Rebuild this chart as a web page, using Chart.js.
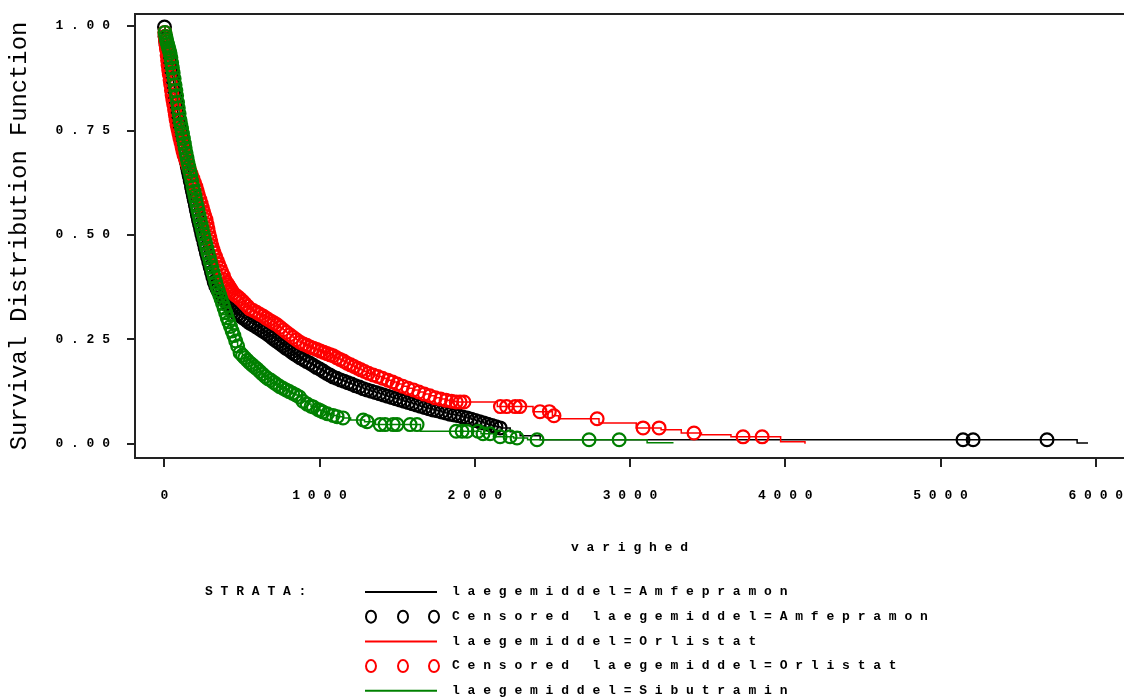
<!DOCTYPE html>
<html>
<head>
<meta charset="utf-8">
<title>Survival Distribution Function</title>
<script src="https://cdn.jsdelivr.net/npm/chart.js@4.4.1/dist/chart.umd.min.js"></script>
<style>
  html, body { margin: 0; padding: 0; background: #fff; overflow: hidden; }
  canvas { display: block; }
</style>
</head>
<body>
<canvas id="km" width="1124" height="700"></canvas>
<script>
// strata and axis ticks
const strataVar = 'laegemiddel';
const strata = ['Amfepramon', 'Orlistat', 'Sibutramin'];
const strataColors = ['#000000', '#ff0000', '#008000'];
const xTicks = [0, 1000, 2000, 3000, 4000, 5000, 6000];
const yTicks = [0, 0.25, 0.5, 0.75, 1];

// step points of each curve [time, survival]
const amfSteps = [[0, 1], [2228, .029], [2292, .019], [2421, .0096], [5880, .002], [5950, .002]];
const orlSteps = [[0, 1], [2145, .089], [2375, .077], [2500, .067], [2540, .06], [2800, .05], [3040, .038],
  [3200, .0335], [3330, .026], [3460, .0215], [3650, .0167], [3970, .005], [4127, 0]];
const sibSteps = [[0, 1], [1200, .057], [1290, .053], [1360, .046], [1650, .03], [2040, .024], [2130, .017],
  [2250, .014], [2340, .0096], [3110, .0024], [3280, .0024]];

// censored observations [time, survival]
const amfCensored = [[1, .998], [5, .975], [8, .965], [12, .955], [17, .948], [22, .942], [27, .935], [32, .924],
  [37, .912], [42, .9], [47, .888], [53, .874], [59, .859], [64, .846], [69, .833], [75, .817], [80, .804],
  [85, .79], [91, .775], [96, .765], [101, .755], [107, .743], [113, .731], [119, .719], [124, .708], [130, .696],
  [136, .685], [142, .674], [148, .663], [154, .652], [160, .642], [167, .629], [175, .615], [181, .604],
  [187, .594], [193, .583], [200, .571], [206, .56], [213, .548], [220, .536], [227, .525], [234, .514],
  [241, .503], [248, .492], [256, .48], [263, .469], [271, .457], [279, .446], [287, .434], [295, .423],
  [304, .411], [312, .4], [321, .388], [331, .378], [341, .37], [351, .363], [361, .357], [372, .352],
  [384, .346], [396, .341], [408, .335], [420, .329], [432, .323],
  [443, .318], [458, .314], [473, .31], [489, .306], [505, .302], [521, .298], [537, .293], [552, .289],
  [570, .285], [588, .281], [606, .277], [625, .272], [643, .268], [662, .263], [680, .258], [697, .253],
  [714, .248], [731, .244], [748, .239], [765, .234], [783, .229], [801, .225], [819, .22], [837, .215],
  [856, .211], [874, .206], [895, .202], [916, .197], [938, .193], [959, .188], [980, .183], [1001, .179],
  [1023, .174], [1044, .169], [1065, .165], [1087, .16], [1110, .157], [1134, .153], [1158, .15], [1182, .146],
  [1206, .143], [1230, .139], [1256, .136], [1281, .132], [1306, .129], [1333, .126], [1360, .123], [1386, .12],
  [1412, .117], [1438, .114], [1465, .111], [1491, .108], [1518, .105], [1544, .102], [1571, .099], [1597, .096],
  [1624, .093], [1650, .09], [1677, .087], [1704, .084], [1731, .081], [1758, .079], [1786, .076], [1813, .074],
  [1840, .071], [1868, .069], [1895, .067], [1922, .064], [1950, .062], [1977, .059], [2003, .056], [2030, .053],
  [2057, .05], [2083, .047], [2110, .044], [2136, .041], [2163, .038],
  [5145, .0096], [5210, .0096], [5686, .0096]];

const orlCensored = [[3, .985], [5, .975], [8, .965], [11, .955], [14, .944], [18, .93], [21, .918], [24, .907],
  [28, .895], [32, .884], [37, .871], [41, .86], [46, .846], [50, .835], [55, .824], [60, .813], [66, .8],
  [71, .788], [76, .776], [82, .763], [88, .753], [94, .743], [100, .733], [107, .722], [114, .711], [120, .701],
  [127, .691], [136, .682], [145, .673], [154, .664], [164, .655], [174, .645], [184, .635], [194, .625],
  [204, .615], [212, .605], [220, .595], [229, .585], [237, .575], [245, .565], [253, .555], [261, .545],
  [269, .536], [275, .525], [281, .515], [287, .504], [293, .494], [299, .484], [306, .474], [313, .465],
  [320, .457], [330, .448], [340, .439], [350, .43], [360, .421], [370, .411], [381, .402], [391, .392],
  [400, .386], [409, .381], [418, .376], [426, .371], [434, .366], [443, .361], [458, .356], [473, .352],
  [488, .347], [505, .341], [520, .335], [536, .329], [552, .323], [573, .319], [594, .315], [615, .31],
  [636, .306], [655, .301], [672, .297], [690, .293], [708, .289], [726, .285], [746, .279], [766, .273],
  [786, .267], [808, .261], [829, .255], [851, .249], [874, .243], [896, .239], [917, .236], [938, .232],
  [960, .229], [982, .226], [1005, .222], [1027, .219], [1048, .216], [1069, .213], [1087, .211], [1110, .206],
  [1132, .202], [1155, .198], [1177, .193], [1200, .189], [1222, .185], [1245, .181], [1267, .177], [1290, .173],
  [1315, .169], [1345, .165], [1375, .161], [1405, .157], [1440, .152], [1470, .148], [1500, .143], [1535, .138],
  [1570, .133], [1605, .129], [1640, .124], [1675, .119], [1710, .115], [1745, .11], [1780, .107], [1815, .104],
  [1850, .102], [1880, .1], [1905, .1], [1930, .1],
  [2165, .089], [2205, .089], [2260, .089], [2290, .089], [2420, .077], [2480, .077], [2510, .067], [2788, .06],
  [3084, .038], [3187, .038], [3412, .026], [3728, .0167], [3851, .0167]];

const sibCensored = [[4, .985], [9, .975], [13, .968], [17, .962], [22, .955], [27, .948], [32, .942], [37, .935],
  [42, .924], [47, .912], [52, .9], [57, .888], [63, .874], [69, .859], [74, .846], [79, .833], [85, .817],
  [90, .804], [95, .79], [101, .775], [106, .765], [111, .755], [117, .743], [123, .731], [129, .719], [134, .708],
  [140, .696], [146, .685], [152, .674], [158, .663], [164, .652], [170, .642], [177, .629], [185, .615],
  [191, .604], [197, .594], [203, .583], [210, .571], [216, .56], [223, .548], [230, .536], [237, .525],
  [244, .514], [251, .503], [258, .492], [266, .48], [273, .469], [281, .457], [289, .446], [297, .434],
  [305, .423], [314, .411], [322, .4], [331, .387], [339, .376], [348, .366], [357, .356], [366, .346],
  [375, .336], [385, .325], [395, .314], [405, .302], [415, .292], [426, .281], [437, .27], [448, .259],
  [460, .246], [472, .234], [488, .218], [503, .212], [518, .206], [534, .2], [550, .194], [566, .189],
  [582, .184], [598, .179], [615, .173], [632, .167], [650, .161], [668, .156], [686, .152], [705, .147],
  [724, .142], [744, .137], [764, .133], [784, .129], [805, .125], [826, .121], [848, .117], [870, .112],
  [893, .102], [920, .095], [945, .09], [960, .088], [989, .082], [1003, .08], [1022, .076], [1050, .072],
  [1087, .068], [1113, .065], [1151, .062],
  [1281, .057], [1306, .053], [1390, .046], [1422, .046], [1474, .046], [1499, .046], [1583, .046], [1628, .046],
  [1880, .03], [1918, .03], [1950, .03], [2021, .03], [2053, .024], [2098, .024], [2163, .017], [2227, .017],
  [2272, .014], [2401, .0096], [2736, .0096], [2930, .0096]];

// ---------------------------------------------------------------
const sp = s => s.split('').join(' ');
const toXY = arr => arr.map(p => ({ x: p[0], y: p[1] }));
// curve passes through its steps and its censored marks
const curve = (steps, cens) => toXY(steps.concat(cens)).sort((a, b) => a.x - b.x);

const stepsByStratum = [amfSteps, orlSteps, sibSteps];
const censByStratum = [amfCensored, orlCensored, sibCensored];

const datasets = [];
strata.forEach((name, i) => {
  const c = strataColors[i];
  datasets.push({
    label: strataVar + '=' + name,
    data: curve(stepsByStratum[i], censByStratum[i]),
    showLine: true,
    stepped: true,
    borderColor: c,
    borderWidth: 1.5,
    pointRadius: 0,
    order: 5 - 2 * i
  });
  datasets.push({
    label: 'Censored ' + strataVar + '=' + name,
    data: toXY(censByStratum[i]),
    showLine: false,
    pointStyle: 'circle',
    pointRadius: 6.4,
    borderColor: c,
    borderWidth: 2.2,
    backgroundColor: 'rgba(0,0,0,0)',
    order: 4 - 2 * i
  });
});

const frameAndStrata = {
  id: 'frameAndStrata',
  afterDraw(chart) {
    const ctx = chart.ctx, a = chart.chartArea;
    ctx.save();
    ctx.strokeStyle = '#222';
    ctx.lineWidth = 2;
    ctx.beginPath();
    ctx.moveTo(a.left - 1, a.top);
    ctx.lineTo(a.right, a.top);
    ctx.stroke();

    ctx.font = 'bold 13px "Liberation Mono"';
    ctx.textBaseline = 'middle';
    ctx.fillStyle = '#000';
    ctx.fillText(sp('STRATA:'), 205, 592);
    // legend rows, the last ones fall below the window
    chart.data.datasets.slice(0, 5).forEach((ds, i) => {
      const y = 592 + i * 24.7;
      ctx.strokeStyle = ds.borderColor;
      if (ds.showLine) {
        ctx.lineWidth = 2;
        ctx.beginPath();
        ctx.moveTo(365, y);
        ctx.lineTo(437, y);
        ctx.stroke();
      } else {
        ctx.lineWidth = 2;
        [371, 403, 434].forEach(cx => {
          ctx.beginPath();
          ctx.ellipse(cx, y, 5, 6, 0, 0, Math.PI * 2);
          ctx.stroke();
        });
      }
      ctx.fillStyle = '#000';
      ctx.fillText(sp(ds.label), 452, y);
    });
    ctx.restore();
  }
};

// keep the plot frame exactly where the layout padding puts it
const noEdgePadding = ax => {
  ax.paddingTop = 0; ax.paddingBottom = 0; ax.paddingLeft = 0; ax.paddingRight = 0;
};

Chart.defaults.font.family = '"Liberation Mono", monospace';
Chart.defaults.color = '#000';

new Chart(document.getElementById('km').getContext('2d'), {
  type: 'scatter',
  data: { datasets: datasets },
  options: {
    responsive: false,
    animation: false,
    devicePixelRatio: 1,
    layout: { autoPadding: false, padding: { top: 14, right: 0, bottom: 132, left: 0 } },
    plugins: { legend: { display: false }, tooltip: { enabled: false } },
    scales: {
      x: {
        type: 'linear',
        position: 'bottom',
        min: -189,
        max: 6182,
        afterBuildTicks: ax => { ax.ticks = xTicks.map(v => ({ value: v })); },
        afterFit: ax => { ax.height = 110; noEdgePadding(ax); },
        ticks: { font: { size: 13, weight: 'bold' }, padding: 21, maxRotation: 0, autoSkip: false, callback: v => sp(String(v)) },
        grid: { drawOnChartArea: false, drawTicks: true, tickLength: 9, color: '#222', lineWidth: 2 },
        border: { display: true, color: '#222', width: 2 },
        title: { display: true, text: sp('varighed'), font: { size: 13, weight: 'bold' }, padding: { top: 0, bottom: 12 } }
      },
      y: {
        type: 'linear',
        min: -0.034,
        max: 1.029,
        afterBuildTicks: ax => { ax.ticks = yTicks.map(v => ({ value: v })); },
        afterFit: ax => { ax.width = 135; noEdgePadding(ax); },
        ticks: { font: { size: 13, weight: 'bold' }, padding: 17, callback: v => sp(v.toFixed(2)) },
        grid: { drawOnChartArea: false, drawTicks: true, tickLength: 8, color: '#222', lineWidth: 2 },
        border: { display: true, color: '#222', width: 2 },
        title: { display: true, text: 'Survival Distribution Function', font: { size: 23.8 }, padding: { top: 5, bottom: 0 } }
      }
    }
  },
  plugins: [frameAndStrata]
});
</script>
</body>
</html>
